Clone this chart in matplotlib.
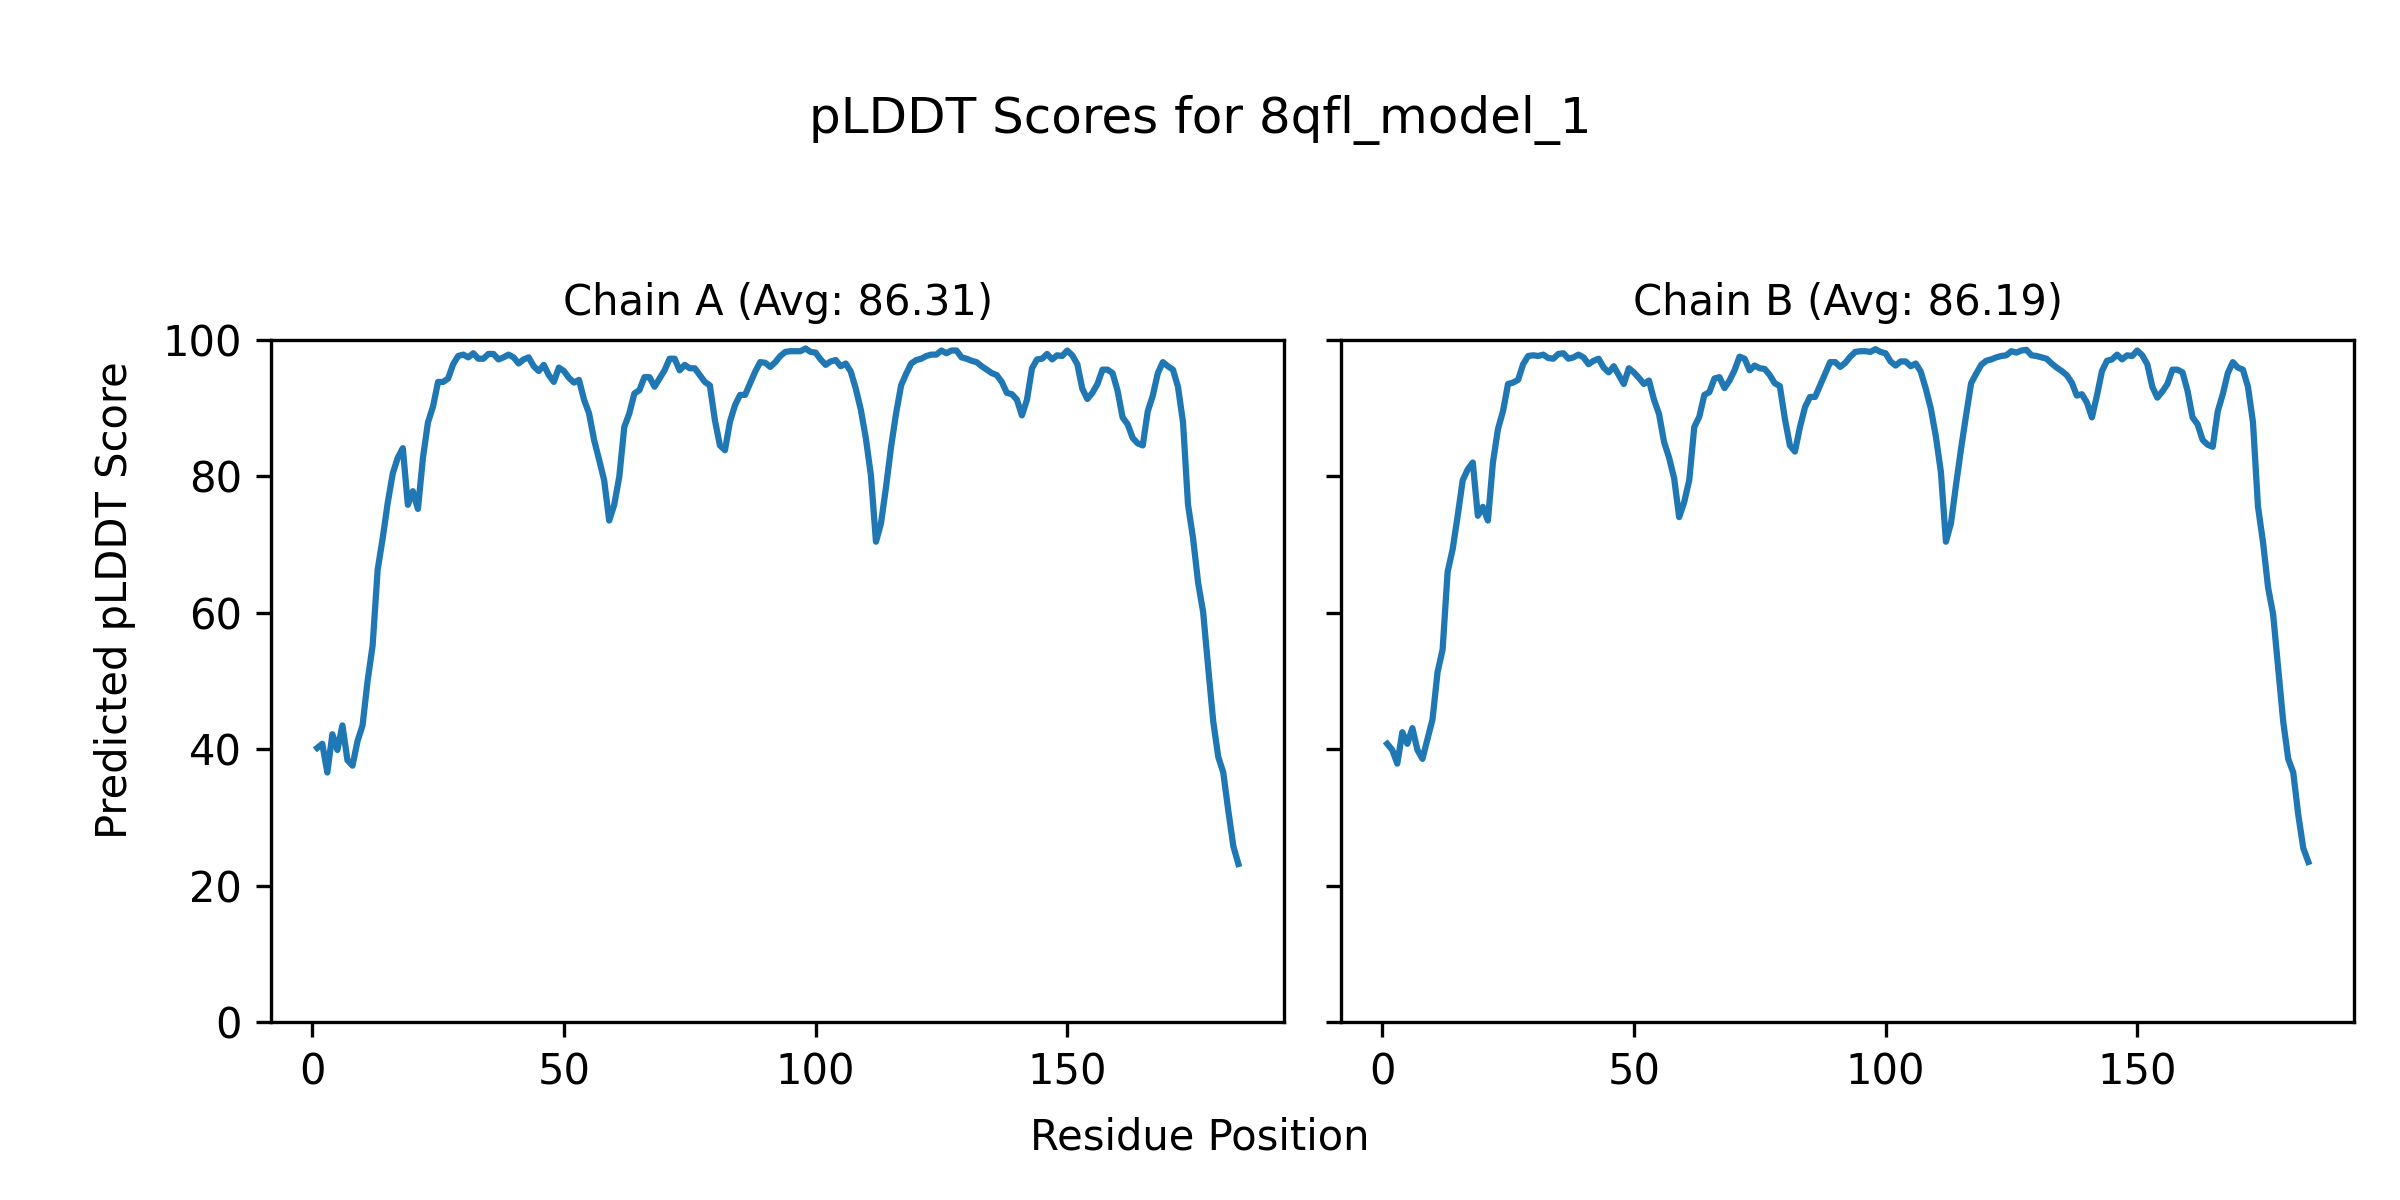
import numpy as np
import matplotlib
matplotlib.use("Agg")
import matplotlib.pyplot as plt

# pLDDT por resíduo, resíduos 1..184
residuos = np.arange(1, 185)

plddt_a = [
    40.2, 40.8, 36.6, 42.2, 39.9, 43.5, 38.4, 37.6, 41.2, 43.5,
    50.0, 55.2, 66.3, 70.9, 76.1, 80.4, 82.7, 84.1, 75.8, 77.8,
    75.2, 82.7, 87.9, 90.2, 93.8, 93.8, 94.3, 96.4, 97.6, 97.8,
    97.4, 98.0, 97.2, 97.2, 97.9, 97.9, 97.1, 97.4, 97.8, 97.4,
    96.5, 97.1, 97.4, 96.1, 95.4, 96.3, 94.8, 93.8, 95.9, 95.4,
    94.4, 93.7, 94.1, 91.2, 89.2, 85.3, 82.4, 79.4, 73.5, 75.8,
    79.9, 87.2, 89.2, 92.1, 92.6, 94.5, 94.5, 93.1, 94.3, 95.5,
    97.2, 97.2, 95.5, 96.3, 95.8, 95.8, 94.8, 93.8, 93.3, 88.2,
    84.5, 83.8, 88.0, 90.4, 91.9, 91.9, 93.6, 95.3, 96.7, 96.6,
    96.0, 96.7, 97.6, 98.2, 98.3, 98.3, 98.3, 98.7, 98.2, 98.1,
    97.1, 96.3, 96.8, 97.0, 96.1, 96.5, 95.3, 92.8, 89.7, 85.5,
    80.1, 70.4, 73.1, 78.4, 84.3, 89.2, 93.3, 95.0, 96.5, 97.0,
    97.2, 97.6, 97.8, 97.8, 98.4, 98.0, 98.4, 98.4, 97.4, 97.2,
    96.9, 96.7, 96.1, 95.6, 95.1, 94.8, 93.8, 92.2, 92.0, 91.2,
    88.9, 91.2, 95.8, 97.1, 97.2, 97.9, 97.1, 97.7, 97.6, 98.4,
    97.7, 96.4, 92.8, 91.3, 92.2, 93.5, 95.6, 95.6, 95.1, 92.5,
    88.6, 87.6, 85.6, 84.8, 84.5, 89.5, 91.8, 95.1, 96.7, 96.1,
    95.6, 93.1, 87.9, 75.8, 70.9, 64.4, 60.1, 52.0, 44.1, 38.9,
    36.6, 31.0, 25.8, 23.2,
]

plddt_b = [
    40.8, 39.9, 37.9, 42.5, 40.8, 43.1, 39.9, 38.6, 41.5, 44.4,
    51.3, 54.6, 66.0, 69.3, 74.2, 79.4, 81.0, 82.0, 74.2, 75.5,
    73.5, 82.0, 86.9, 89.5, 93.5, 93.7, 94.1, 96.4, 97.6, 97.7,
    97.6, 97.8, 97.3, 97.2, 97.9, 98.0, 97.2, 97.4, 97.8, 97.4,
    96.4, 96.9, 97.2, 95.9, 95.2, 96.1, 94.8, 93.5, 95.8, 95.2,
    94.4, 93.5, 94.0, 91.2, 89.1, 85.0, 82.7, 79.7, 74.0, 76.2,
    79.4, 87.2, 88.7, 91.9, 92.3, 94.3, 94.5, 92.9, 94.0, 95.5,
    97.5, 97.2, 95.5, 96.2, 95.8, 95.7, 94.8, 93.6, 93.2, 88.4,
    84.5, 83.6, 87.2, 90.1, 91.6, 91.6, 93.3, 95.0, 96.7, 96.7,
    96.0, 96.6, 97.5, 98.2, 98.3, 98.3, 98.2, 98.6, 98.2, 98.0,
    96.8, 96.2, 96.8, 96.8, 96.1, 96.5, 95.3, 92.8, 89.9, 85.8,
    80.6, 70.4, 73.1, 78.7, 84.0, 88.9, 93.6, 95.0, 96.3, 96.9,
    97.1, 97.4, 97.6, 97.7, 98.3, 98.1, 98.4, 98.5, 97.7, 97.6,
    97.4, 97.2, 96.5, 95.9, 95.4, 94.8, 93.7, 91.8, 92.0, 90.8,
    88.6, 91.8, 95.4, 96.9, 97.1, 97.8, 97.1, 97.7, 97.6, 98.4,
    97.7, 96.4, 93.1, 91.5, 92.4, 93.5, 95.6, 95.6, 95.2, 92.5,
    88.6, 87.6, 85.3, 84.6, 84.3, 89.5, 92.0, 95.1, 96.7, 95.9,
    95.6, 93.1, 87.9, 75.5, 70.3, 63.7, 59.8, 52.0, 44.1, 38.6,
    36.6, 30.4, 25.5, 23.5,
]

cadeias = ["A", "B"]
medias = [86.31, 86.19]
dados = [plddt_a, plddt_b]

fig, axes = plt.subplots(1, 2, figsize=(8, 4), dpi=300, sharey=True)
fig.subplots_adjust(left=0.113, right=0.981, bottom=0.148, top=0.717, wspace=0.056)

for ax, cadeia, media, valores in zip(axes, cadeias, medias, dados):
    ax.plot(residuos, valores, color="#1f77b4", linewidth=1.5)
    ax.set_title(f"Chain {cadeia} (Avg: {media:.2f})", fontsize=10)
    ax.set_ylim(0, 100)
    ax.set_xticks([0, 50, 100, 150])

fig.suptitle("pLDDT Scores for 8qfl_model_1", fontsize=12, y=0.90, va="center")
fig.text(0.5, 0.052, "Residue Position", ha="center", va="center", fontsize=10)
fig.text(0.048, 0.5, "Predicted pLDDT Score", ha="center", va="center",
         rotation=90, fontsize=10)

plt.savefig("out.png", dpi=300)
